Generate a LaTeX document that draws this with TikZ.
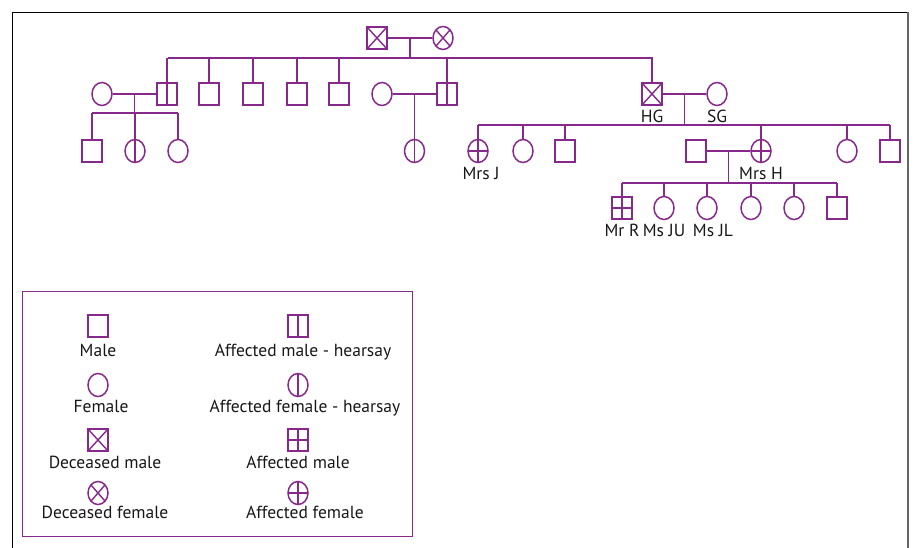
\documentclass[tikz,border=0pt]{standalone}
\usepackage{fontspec}
\setmainfont{PT Sans}
\usetikzlibrary{shapes.geometric,calc}
\definecolor{pedpurple}{RGB}{135,40,140}
\definecolor{pedtext}{RGB}{25,22,24}
\tikzset{
  sym/.style={draw=pedpurple,line width=1.5pt,inner sep=0pt},
  male/.style={sym,rectangle,minimum width=20pt,minimum height=22pt},
  female/.style={sym,ellipse,minimum width=20pt,minimum height=23pt},
  hearsay/.style={path picture={\draw[pedpurple,line width=1.4pt]
      (path picture bounding box.north)--(path picture bounding box.south);}},
  affected/.style={path picture={\draw[pedpurple,line width=1.4pt]
      (path picture bounding box.north)--(path picture bounding box.south)
      (path picture bounding box.west)--(path picture bounding box.east);}},
  deceased/.style={path picture={\draw[pedpurple,line width=1.4pt]
      (path picture bounding box.north west)--(path picture bounding box.south east)
      (path picture bounding box.north east)--(path picture bounding box.south west);}},
  lbl/.style={font=\fontsize{17.5}{19}\selectfont,text=pedtext,inner sep=1pt,label distance=3pt},
  key/.style={lbl,label distance=5pt},
  rel/.style={draw=pedpurple,line width=1.5pt}
}
\begin{document}
\begin{tikzpicture}[x=1pt,y=-1pt]
  \useasboundingbox (0,0) rectangle (915,548);
  % frame
  \draw[black,line width=1pt] (12,548) -- (12,12.5) -- (908,12.5);
  \draw[black!60,line width=1.6pt] (908,12.5) -- (908,548);

  % Generation I
  \node[male,deceased] (gf) at (377,38) {};
  \node[female,deceased] (gm) at (443,38) {};
  \draw[rel] (gf) -- (gm);
  \coordinate (m1) at ($(gf)!0.5!(gm)$);
  \coordinate (s1l) at (168,58);
  \coordinate (s1r) at (653,58);
  \draw[rel] (s1l) -- (s1r);
  \draw[rel] (m1) -- (m1 |- s1l);

  % Generation II
  \node[female] (w1) at (102,94) {};
  \node[male,hearsay] (a1) at (167,94) {};
  \node[male] (b1) at (209,94) {};
  \node[male] (b2) at (253,94) {};
  \node[male] (b3) at (297,94) {};
  \node[male] (b4) at (339,94) {};
  \node[female] (w2) at (382,94) {};
  \node[male,hearsay] (a2) at (447,94) {};
  \node[male,deceased,label={[lbl]below:HG}] (hg) at (652,94) {};
  \node[female,label={[lbl]below:SG}] (sg) at (717,94) {};
  \foreach \c in {a1,b1,b2,b3,b4,a2,hg}{\draw[rel] (\c.north) -- (\c.north |- s1l);}

  % left family
  \draw[rel] (w1) -- (a1);
  \coordinate (m2) at ($(w1)!0.5!(a1)$);
  \coordinate (s2l) at (92,113);
  \coordinate (s2r) at (178,113);
  \draw[rel] (s2l) -- (s2r);
  \draw[rel] (m2) -- (m2 |- s2l);
  \node[male] (c1) at (92,151) {};
  \node[female,hearsay] (c2) at (135,151) {};
  \node[female] (c3) at (178,151) {};
  \foreach \c in {c1,c2,c3}{\draw[rel] (\c.north) -- (\c.north |- s2l);}

  % middle family
  \draw[rel] (w2) -- (a2);
  \coordinate (m3) at ($(w2)!0.5!(a2)$);
  \node[female,hearsay] (d1) at (m3 |- c1) {};
  \draw[rel] (m3) -- (d1.north);

  % HG and SG
  \draw[rel] (hg) -- (sg);
  \coordinate (m4) at ($(hg)!0.5!(sg)$);
  \coordinate (s3l) at (478,125);
  \coordinate (s3r) at (890,125);
  \draw[rel] (s3l) -- (s3r);
  \draw[rel] (m4) -- (m4 |- s3l);
  \node[female,affected,label={[lbl,xshift=3pt]below:Mrs J}] (mj) at (478,151) {};
  \node[female] (e1) at (523,151) {};
  \node[male] (e2) at (565,151) {};
  \node[male] (hs) at (696,151) {};
  \node[female,affected,label={[lbl]below:Mrs H}] (mh) at (761,151) {};
  \node[female] (e3) at (847,151) {};
  \node[male] (e4) at (890,151) {};
  \foreach \c in {mj,e1,e2,mh,e3,e4}{\draw[rel] (\c.north) -- (\c.north |- s3l);}

  % Mrs H family
  \draw[rel] (hs) -- (mh);
  \coordinate (m5) at ($(hs)!0.5!(mh)$);
  \coordinate (s4l) at (622,183);
  \coordinate (s4r) at (837,183);
  \draw[rel] (s4l) -- (s4r);
  \draw[rel] (m5) -- (m5 |- s4l);
  \node[male,affected,label={[lbl]below:Mr R}] (mr) at (622,208) {};
  \node[female,label={[lbl]below:Ms JU}] (ju) at (664,208) {};
  \node[female,label={[lbl,xshift=6pt]below:Ms JL}] (jl) at (707,208) {};
  \node[female] (f1) at (751,208) {};
  \node[female] (f2) at (794,208) {};
  \node[male] (f3) at (837,208) {};
  \foreach \c in {mr,ju,jl,f1,f2,f3}{\draw[rel] (\c.north) -- (\c.north |- s4l);}

  % Legend
  \draw[pedpurple,line width=1pt] (22,291) rectangle (412,536);
  \node[male,label={[key]below:Male}] (k1) at (98,326) {};
  \node[female,label={[key,label distance=2pt,xshift=3pt]below:Female}] (k2) at (98,385) {};
  \node[male,deceased,label={[key,label distance=3pt,xshift=7pt]below:Deceased male}] (k3) at (98,440) {};
  \node[female,deceased,label={[key,label distance=0pt,xshift=7pt]below:Deceased female}] (k4) at (98,493) {};
  \node[male,hearsay,label={[key,xshift=5pt]below:Affected male - hearsay}] (k5) at (298,326) {};
  \node[female,hearsay,label={[key,label distance=2pt,xshift=7pt]below:Affected female - hearsay}] (k6) at (298,385) {};
  \node[male,affected,label={[key,label distance=3pt]below:Affected male}] (k7) at (298,440) {};
  \node[female,affected,label={[key,label distance=0pt,xshift=7pt]below:Affected female}] (k8) at (298,493) {};
\end{tikzpicture}
\end{document}
